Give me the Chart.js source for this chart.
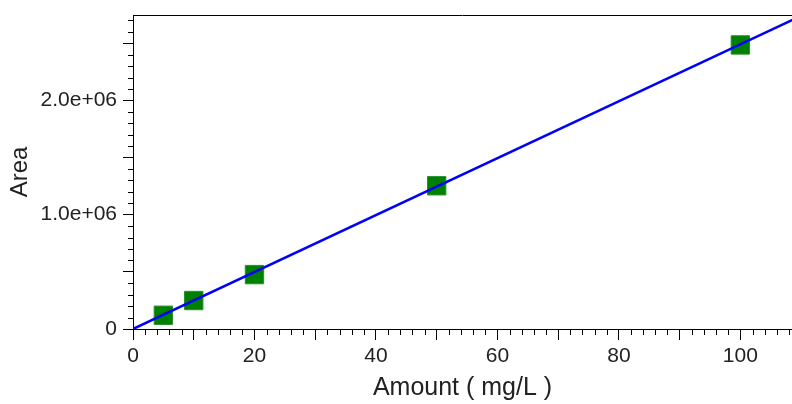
<!DOCTYPE html>
<html>
<head>
    <title>Calibration curve</title>
    <script src="https://cdn.jsdelivr.net/npm/chart.js@4/dist/chart.umd.min.js"></script>
    <style>
        body { margin: 0; background: #fff; }
    </style>
</head>
<body>
    <canvas id="chartCanvas" width="792" height="404"></canvas>

    <script>
        // Calibration points
        const amount = [5, 10, 20, 50, 100];
        const area = [120000, 249000, 476000, 1253000, 2485000];

        // Fit line ends
        const fitAmount = [0, 110];
        const fitArea = [0, 2740000];

        // Axis limits and tick positions
        const xMax = 108.5;
        const yMax = 2747000;
        const xMajorTicks = [0, 10, 20, 30, 40, 50, 60, 70, 80, 90, 100];
        const yMajorTicks = [0, 500000, 1000000, 1500000, 2000000, 2500000];
        const xMinorStep = 2;
        const yMinorStep = 100000;

        const FONT = '"Liberation Sans", Arial, sans-serif';

        // minor ticks + top frame line
        const minorTicks = {
            id: 'minorTicks',
            afterDraw(chart) {
                const ctx = chart.ctx;
                const a = chart.chartArea;
                const xs = chart.scales.x;
                const ys = chart.scales.y;
                ctx.save();
                ctx.strokeStyle = '#000';
                ctx.lineWidth = 1;
                ctx.beginPath();
                for (let v = 0; v <= xMax; v += xMinorStep) {
                    if (xMajorTicks.includes(v)) continue;
                    const px = Math.round(xs.getPixelForValue(v)) + 0.5;
                    ctx.moveTo(px, a.bottom);
                    ctx.lineTo(px, a.bottom + 6);
                }
                for (let v = 0; v <= yMax; v += yMinorStep) {
                    if (yMajorTicks.includes(v)) continue;
                    const py = Math.round(ys.getPixelForValue(v)) + 0.5;
                    ctx.moveTo(a.left, py);
                    ctx.lineTo(a.left - 5, py);
                }
                ctx.moveTo(a.left, a.top + 0.5);
                ctx.lineTo(a.right, a.top + 0.5);
                ctx.stroke();
                ctx.restore();
            }
        };

        const ctx = document.getElementById('chartCanvas').getContext('2d');
        const chart = new Chart(ctx, {
            type: 'scatter',
            data: {
                datasets: [
                    {
                        label: 'Fit',
                        type: 'line',
                        data: fitAmount.map((x, i) => ({ x: x, y: fitArea[i] })),
                        borderColor: '#0000ff',
                        borderWidth: 2.5,
                        pointRadius: 0,
                        fill: false,
                        order: 1,
                    },
                    {
                        label: 'Area',
                        data: amount.map((x, i) => ({ x: x, y: area[i] })),
                        pointStyle: 'rect',
                        pointRadius: 13,
                        backgroundColor: '#008000',
                        borderColor: '#2a8f2a',
                        borderWidth: 1,
                        order: 2,
                    },
                ],
            },
            options: {
                responsive: false,
                animation: false,
                layout: { autoPadding: false, padding: { top: 15, right: 0, left: 0, bottom: 0 } },
                plugins: {
                    legend: { display: false },
                    tooltip: { enabled: false },
                },
                scales: {
                    x: {
                        type: 'linear',
                        min: 0,
                        max: xMax,
                        afterBuildTicks: s => { s.ticks = xMajorTicks.map(v => ({ value: v })); },
                        afterFit: s => { s.height = 75; s.paddingRight = 0; s.paddingLeft = 0; },
                        grid: { drawOnChartArea: false, tickLength: 11, color: '#000' },
                        border: { display: true, color: '#000', width: 1 },
                        ticks: {
                            autoSkip: false,
                            maxRotation: 0,
                            padding: 4,
                            color: '#222',
                            font: { family: FONT, size: 21 },
                            callback: v => (v % 20 === 0 ? String(v) : ''),
                        },
                        title: {
                            display: true,
                            text: 'Amount ( mg/L )',
                            color: '#222',
                            font: { family: FONT, size: 25 },
                            padding: { top: 0, bottom: 1 },
                        },
                    },
                    y: {
                        type: 'linear',
                        min: 0,
                        max: yMax,
                        afterBuildTicks: s => { s.ticks = yMajorTicks.map(v => ({ value: v })); },
                        afterFit: s => { s.width = 133; s.paddingTop = 0; s.paddingBottom = 0; },
                        grid: { drawOnChartArea: false, tickLength: 10, color: '#000' },
                        border: { display: true, color: '#000', width: 1 },
                        ticks: {
                            autoSkip: false,
                            padding: 6,
                            color: '#222',
                            font: { family: FONT, size: 21 },
                            callback: v => {
                                if (v === 0) return '0';
                                if (v % 1000000 === 0) return (v / 1000000).toFixed(1) + 'e+06';
                                return '';
                            },
                        },
                        title: {
                            display: true,
                            text: 'Area',
                            color: '#222',
                            font: { family: FONT, size: 24 },
                            padding: { top: 6, bottom: 0 },
                        },
                    },
                },
            },
            plugins: [minorTicks],
        });
    </script>
</body>
</html>
